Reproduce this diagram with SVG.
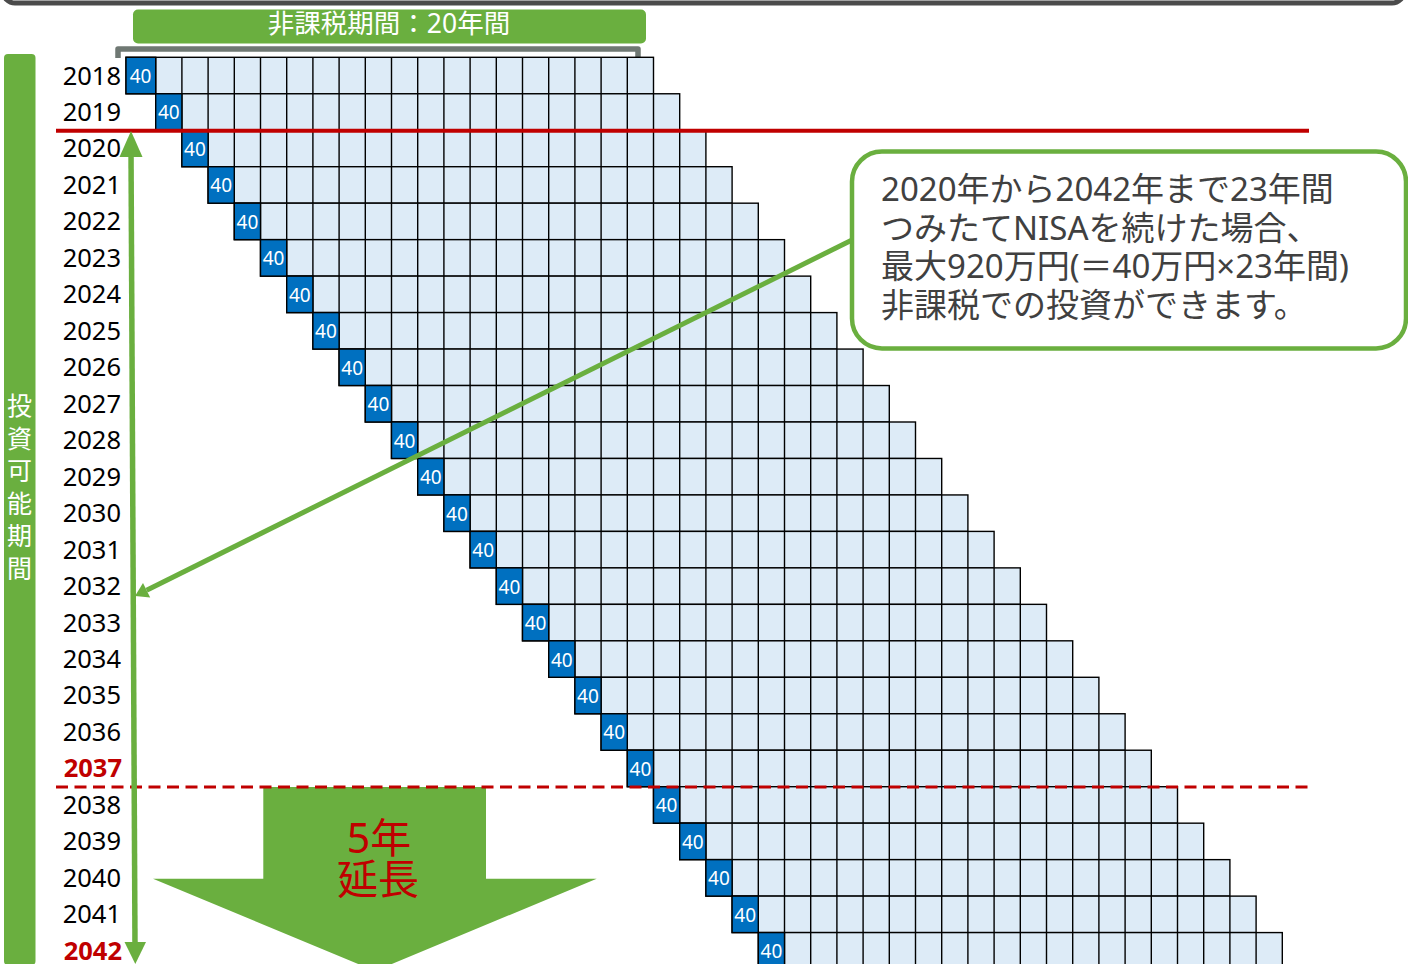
<svg xmlns="http://www.w3.org/2000/svg" xmlns:xlink="http://www.w3.org/1999/xlink" width="1408" height="964" viewBox="0 0 1408 964">
<style>
.row{fill:#ddebf7;stroke:#000;stroke-width:1.4}
.grid{fill:none;stroke:#000;stroke-width:1.4}
.c40{fill:#0070c0;stroke:#000;stroke-width:1.4}
.v{font-family:"Noto Sans","Noto Sans CJK JP",sans-serif;font-size:19px;fill:#fff;text-anchor:middle}
.yr{font-family:"Noto Sans","Noto Sans CJK JP",sans-serif;font-size:25.5px;fill:#000;text-anchor:end}
.yrb{font-family:"Noto Sans","Noto Sans CJK JP",sans-serif;font-size:25.5px;font-weight:bold;fill:#c00000;text-anchor:end}
.grn{fill:#6aaf3f}
.call{font-family:"Noto Sans","Noto Sans CJK JP",sans-serif;font-size:33px;fill:#404040}
</style>
<defs>
<path id="vl" d="M26.2 0V36.47M52.4 0V36.47M78.6 0V36.47M104.8 0V36.47M131 0V36.47M157.2 0V36.47M183.4 0V36.47M209.6 0V36.47M235.8 0V36.47M262 0V36.47M288.2 0V36.47M314.4 0V36.47M340.6 0V36.47M366.8 0V36.47M393 0V36.47M419.2 0V36.47M445.4 0V36.47M471.6 0V36.47M497.8 0V36.47"/>
<g id="rw"><rect class="row" width="524" height="36.47"/><use xlink:href="#vl" class="grid"/><rect class="c40" width="26.2" height="36.47"/><text class="v" x="13.1" y="25.7">40</text></g>
</defs>

<g id="frame"><rect x="3" y="-50" width="1401" height="53" rx="12" fill="none" stroke="#4b4b4b" stroke-width="5"/></g>

<g id="banner">
<rect x="133" y="9.5" width="513" height="34" rx="5" class="grn"/>
<text x="389" y="32.5" font-family="'Noto Sans','Noto Sans CJK JP',sans-serif" font-size="26.5" fill="#fff" text-anchor="middle">非課税期間：20年間</text>
<path d="M118 58V49H638V58" fill="none" stroke="#6f7873" stroke-width="5.5" stroke-linejoin="round"/>
</g>

<g id="sidebar">
<rect x="4" y="54" width="31.5" height="911" rx="4" class="grn"/>
<text font-family="'Noto Sans CJK JP',sans-serif" font-size="25" fill="#fff" text-anchor="middle">
<tspan x="19.5" y="415">投</tspan><tspan x="19.5" y="447.6">資</tspan><tspan x="19.5" y="480.2">可</tspan><tspan x="19.5" y="512.8">能</tspan><tspan x="19.5" y="545.4">期</tspan><tspan x="19.5" y="578">間</tspan>
</text>
</g>

<g id="years">
<text class="yr" x="121" y="84.5">2018</text>
<text class="yr" x="121" y="120.97">2019</text>
<text class="yr" x="121" y="157.44">2020</text>
<text class="yr" x="121" y="193.91">2021</text>
<text class="yr" x="121" y="230.38">2022</text>
<text class="yr" x="121" y="266.85">2023</text>
<text class="yr" x="121" y="303.32">2024</text>
<text class="yr" x="121" y="339.79">2025</text>
<text class="yr" x="121" y="376.26">2026</text>
<text class="yr" x="121" y="412.73">2027</text>
<text class="yr" x="121" y="449.2">2028</text>
<text class="yr" x="121" y="485.67">2029</text>
<text class="yr" x="121" y="522.14">2030</text>
<text class="yr" x="121" y="558.61">2031</text>
<text class="yr" x="121" y="595.08">2032</text>
<text class="yr" x="121" y="631.55">2033</text>
<text class="yr" x="121" y="668.02">2034</text>
<text class="yr" x="121" y="704.49">2035</text>
<text class="yr" x="121" y="740.96">2036</text>
<text class="yrb" x="122" y="777.43">2037</text>
<text class="yr" x="121" y="813.9">2038</text>
<text class="yr" x="121" y="850.37">2039</text>
<text class="yr" x="121" y="886.84">2040</text>
<text class="yr" x="121" y="923.31">2041</text>
<text class="yrb" x="122" y="959.78">2042</text>
</g>

<g id="grid">
<g id="r2018" transform="translate(129.5 57.3)"><rect class="row" x="-3.5" width="527.5" height="36.47"/><use xlink:href="#vl" class="grid"/><rect class="c40" x="-3.5" width="29.7" height="36.47"/><text class="v" x="11" y="25.7">40</text></g>
<use id="r2019" xlink:href="#rw" x="155.7" y="93.77"/>
<use id="r2020" xlink:href="#rw" x="181.9" y="130.24"/>
<use id="r2021" xlink:href="#rw" x="208.1" y="166.71"/>
<use id="r2022" xlink:href="#rw" x="234.3" y="203.18"/>
<use id="r2023" xlink:href="#rw" x="260.5" y="239.65"/>
<use id="r2024" xlink:href="#rw" x="286.7" y="276.12"/>
<use id="r2025" xlink:href="#rw" x="312.9" y="312.59"/>
<use id="r2026" xlink:href="#rw" x="339.1" y="349.06"/>
<use id="r2027" xlink:href="#rw" x="365.3" y="385.53"/>
<use id="r2028" xlink:href="#rw" x="391.5" y="422"/>
<use id="r2029" xlink:href="#rw" x="417.7" y="458.47"/>
<use id="r2030" xlink:href="#rw" x="443.9" y="494.94"/>
<use id="r2031" xlink:href="#rw" x="470.1" y="531.41"/>
<use id="r2032" xlink:href="#rw" x="496.3" y="567.88"/>
<use id="r2033" xlink:href="#rw" x="522.5" y="604.35"/>
<use id="r2034" xlink:href="#rw" x="548.7" y="640.82"/>
<use id="r2035" xlink:href="#rw" x="574.9" y="677.29"/>
<use id="r2036" xlink:href="#rw" x="601.1" y="713.76"/>
<use id="r2037" xlink:href="#rw" x="627.3" y="750.23"/>
<use id="r2038" xlink:href="#rw" x="653.5" y="786.7"/>
<use id="r2039" xlink:href="#rw" x="679.7" y="823.17"/>
<use id="r2040" xlink:href="#rw" x="705.9" y="859.64"/>
<use id="r2041" xlink:href="#rw" x="732.1" y="896.11"/>
<use id="r2042" xlink:href="#rw" x="758.3" y="932.58"/>
</g>

<g id="extend">
<polygon class="grn" points="263.3,787 486,787 486,878.7 596.7,878.7 375,971 153,878.7 263.3,878.7"/>
<text font-family="'Noto Sans','Noto Sans CJK JP',sans-serif" font-size="41" fill="#c00000" text-anchor="middle"><tspan x="379" y="853">5年</tspan><tspan x="378" y="894">延長</tspan></text>
</g>

<g id="lines">
<line x1="56" y1="130.8" x2="1309" y2="130.8" stroke="#c00000" stroke-width="4"/>
<line x1="56" y1="787" x2="1308" y2="787" stroke="#c00000" stroke-width="3" stroke-dasharray="12 6.5"/>
</g>

<g id="connectors">
<line x1="131" y1="150" x2="135" y2="946" stroke="#6aaf3f" stroke-width="5.5"/>
<polygon class="grn" points="131,131 142.5,157 119.5,157"/>
<polygon class="grn" points="135.3,964 124.5,942 146,942"/>
<line x1="852" y1="240" x2="146.6" y2="590.2" stroke="#6aaf3f" stroke-width="5"/>
<polygon class="grn" points="135,596 150.2,597.4 143,583"/>
</g>

<g id="callout">
<rect x="852" y="151.5" width="554" height="197" rx="30" fill="#fff" stroke="#6aaf3f" stroke-width="4.5"/>
<text class="call"><tspan x="881" y="201">2020年から2042年まで23年間</tspan><tspan x="881" y="239.5">つみたてNISAを続けた場合、</tspan><tspan x="881" y="278">最大920万円(＝40万円×23年間)</tspan><tspan x="881" y="316.5">非課税での投資ができます。</tspan></text>
</g>
</svg>
